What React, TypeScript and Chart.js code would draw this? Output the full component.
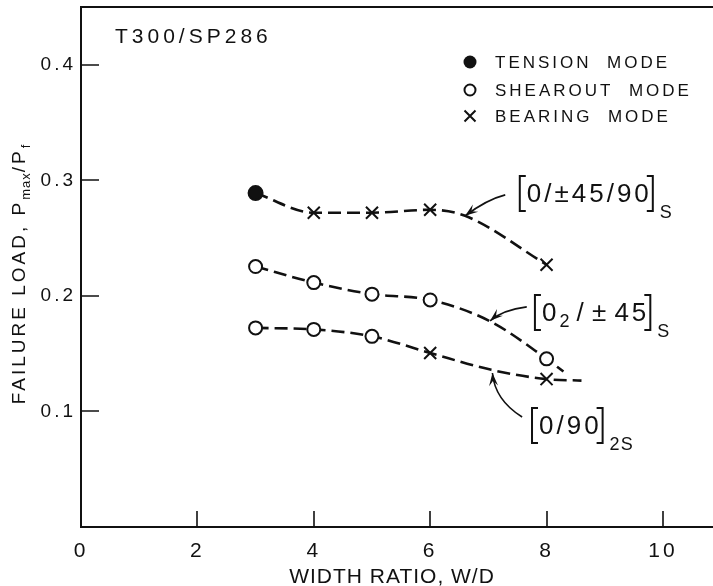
import React, { useEffect, useRef } from "react";
import { Chart, registerables } from "chart.js";

Chart.register(...registerables);

// ---- axes ----
const xTickValues = [0, 2, 4, 6, 8, 10];
const yTickValues = [0.1, 0.2, 0.3, 0.4];
const xMin = 0;
const xMax = 10.86;
const yMin = 0;
const yMax = 0.45;

// ---- [0/±45/90]s ----
const quasiX = [3, 4, 5, 6, 8];
const quasiY = [0.289, 0.272, 0.272, 0.2745, 0.227];
const quasiMode = ["T", "B", "B", "B", "B"];
const quasiCurveX = [3, 4, 5, 6, 6.6, 8];
const quasiCurveY = [0.289, 0.272, 0.272, 0.2745, 0.2693, 0.227];

// ---- [02/±45]s ----
const angleX = [3, 4, 5, 6, 8];
const angleY = [0.2254, 0.2115, 0.2015, 0.1965, 0.1455];
const angleMode = ["S", "S", "S", "S", "S"];
const angleCurveX = [3, 4, 5, 6, 7.03, 8, 8.29];
const angleCurveY = [0.2254, 0.2115, 0.2015, 0.1965, 0.178, 0.1455, 0.1345];

// ---- [0/90]2s ----
const crossX = [3, 4, 5, 6, 8];
const crossY = [0.1723, 0.171, 0.165, 0.1506, 0.128];
const crossMode = ["S", "S", "S", "B", "B"];
const crossCurveX = [3, 4, 5, 6, 7.05, 8, 8.6];
const crossCurveY = [0.1723, 0.171, 0.165, 0.1506, 0.136, 0.128, 0.1267];

// ---- texts ----
const titleText = "T300/SP286";
const legendItems = [
  { mode: "T", label: "TENSION  MODE" },
  { mode: "S", label: "SHEAROUT  MODE" },
  { mode: "B", label: "BEARING  MODE" },
];
const xTitle = "WIDTH RATIO, W/D";

// laminate labels: anchor (bracket left, centre) in data units, arrow tail/ctrl/tip in data units
const labelQuasi = { x: 7.54, y: 0.289, segs: [{ t: "0/±45/90" }], trail: "S" };
const labelAngle = { x: 7.8, y: 0.186, segs: [{ t: "0" }, { t: "2", sub: true }, { t: "\u200A/\u200A±\u200A45" }], trail: "S" };
const labelCross = { x: 7.75, y: 0.0883, segs: [{ t: "0/90" }], trail: "2S" };
const arrowQuasi = { tail: [7.29, 0.2874], ctrl: [6.98, 0.2835], tip: [6.6, 0.2693] };
const arrowAngle = { tail: [7.66, 0.1905], ctrl: [7.25, 0.188], tip: [7.03, 0.1784] };
const arrowCross = { tail: [7.58, 0.0952], ctrl: [7.11, 0.11], tip: [7.07, 0.1333] };

const FONT = "'Liberation Sans', Arial, sans-serif";
const INK = "#111";

function pts(xs: number[], ys: number[]) {
  return xs.map((x, i) => ({ x, y: ys[i] }));
}
function ptsMode(xs: number[], ys: number[], modes: string[], m: string) {
  return xs.map((x, i) => ({ x, y: ys[i], m: modes[i] })).filter((p) => p.m === m).map((p) => ({ x: p.x, y: p.y }));
}

function drawMarker(ctx: CanvasRenderingContext2D, mode: string, x: number, y: number) {
  ctx.save();
  ctx.strokeStyle = INK;
  ctx.fillStyle = INK;
  ctx.lineWidth = 2;
  if (mode === "T") {
    ctx.beginPath();
    ctx.arc(x, y, 6.5, 0, Math.PI * 2);
    ctx.fill();
  } else if (mode === "S") {
    ctx.beginPath();
    ctx.arc(x, y, 5.5, 0, Math.PI * 2);
    ctx.fillStyle = "#fff";
    ctx.fill();
    ctx.stroke();
  } else {
    const r = 5.5;
    ctx.beginPath();
    ctx.moveTo(x - r, y - r);
    ctx.lineTo(x + r, y + r);
    ctx.moveTo(x + r, y - r);
    ctx.lineTo(x - r, y + r);
    ctx.stroke();
  }
  ctx.restore();
}

function drawLaminate(ctx: CanvasRenderingContext2D, x: number, yc: number, segs: { t: string; sub?: boolean }[], trail: string) {
  ctx.save();
  ctx.strokeStyle = INK;
  ctx.fillStyle = INK;
  ctx.lineWidth = 2;
  const top = yc - 17;
  const bottom = yc + 18;
  ctx.beginPath();
  ctx.moveTo(x + 6, top);
  ctx.lineTo(x, top);
  ctx.lineTo(x, bottom);
  ctx.lineTo(x + 6, bottom);
  ctx.stroke();
  let cx = x + 7;
  ctx.textAlign = "left";
  ctx.textBaseline = "alphabetic";
  for (const s of segs) {
    if (s.sub) {
      ctx.font = `18px ${FONT}`;
      ctx.letterSpacing = "2px";
      ctx.fillText(s.t, cx, yc + 15);
    } else {
      ctx.font = `26px ${FONT}`;
      ctx.letterSpacing = "3px";
      ctx.fillText(s.t, cx, yc + 9);
    }
    cx += ctx.measureText(s.t).width;
  }
  const rx = cx + 1;
  ctx.beginPath();
  ctx.moveTo(rx - 6, top);
  ctx.lineTo(rx, top);
  ctx.lineTo(rx, bottom);
  ctx.lineTo(rx - 6, bottom);
  ctx.stroke();
  ctx.font = `18px ${FONT}`;
  ctx.letterSpacing = "1px";
  ctx.fillText(trail, rx + 7, bottom + 7);
  ctx.restore();
}

function drawArrow(chart: any, a: { tail: number[]; ctrl: number[]; tip: number[] }) {
  const ctx: CanvasRenderingContext2D = chart.ctx;
  const xs = chart.scales.x;
  const ys = chart.scales.y;
  const t = [xs.getPixelForValue(a.tail[0]), ys.getPixelForValue(a.tail[1])];
  const c = [xs.getPixelForValue(a.ctrl[0]), ys.getPixelForValue(a.ctrl[1])];
  const p = [xs.getPixelForValue(a.tip[0]), ys.getPixelForValue(a.tip[1])];
  ctx.save();
  ctx.strokeStyle = INK;
  ctx.fillStyle = INK;
  ctx.lineWidth = 1.6;
  ctx.beginPath();
  ctx.moveTo(t[0], t[1]);
  ctx.quadraticCurveTo(c[0], c[1], p[0], p[1]);
  ctx.stroke();
  const ang = Math.atan2(p[1] - c[1], p[0] - c[0]);
  const L = 13;
  const W = 4.5;
  const bx = p[0] - L * Math.cos(ang);
  const by = p[1] - L * Math.sin(ang);
  ctx.beginPath();
  ctx.moveTo(p[0], p[1]);
  ctx.lineTo(bx + W * Math.sin(ang), by - W * Math.cos(ang));
  ctx.lineTo(p[0] - 0.6 * L * Math.cos(ang), p[1] - 0.6 * L * Math.sin(ang));
  ctx.lineTo(bx - W * Math.sin(ang), by + W * Math.cos(ang));
  ctx.closePath();
  ctx.fill();
  ctx.restore();
}

const decorPlugin = {
  id: "decor",
  beforeDraw(chart: any) {
    chart.ctx.letterSpacing = "3px";
  },
  beforeDatasetsDraw(chart: any) {
    const ctx: CanvasRenderingContext2D = chart.ctx;
    ctx.letterSpacing = "0px";
    const { left, right, top, bottom } = chart.chartArea;
    const xs = chart.scales.x;
    const ys = chart.scales.y;
    ctx.save();
    ctx.strokeStyle = INK;
    ctx.lineWidth = 2;
    ctx.beginPath();
    ctx.moveTo(right, top);
    ctx.lineTo(left, top);
    ctx.lineTo(left, bottom);
    ctx.lineTo(right, bottom);
    ctx.stroke();
    ctx.lineWidth = 1.6;
    ctx.beginPath();
    for (const v of yTickValues) {
      const y = Math.round(ys.getPixelForValue(v));
      ctx.moveTo(left, y);
      ctx.lineTo(left + 18, y);
    }
    for (const v of xTickValues) {
      if (v === 0) continue;
      const x = Math.round(xs.getPixelForValue(v));
      ctx.moveTo(x, bottom);
      ctx.lineTo(x, bottom - 16);
    }
    ctx.stroke();
    ctx.restore();
  },
  afterDatasetsDraw(chart: any) {
    const ctx: CanvasRenderingContext2D = chart.ctx;
    const xs = chart.scales.x;
    const ys = chart.scales.y;
    ctx.save();
    ctx.fillStyle = INK;
    ctx.textBaseline = "alphabetic";
    ctx.textAlign = "left";

    // title
    ctx.font = `21px ${FONT}`;
    ctx.letterSpacing = "4px";
    ctx.fillText(titleText, 115, 43);

    // legend
    const rows = [62, 90, 116];
    legendItems.forEach((it, i) => {
      drawMarker(ctx, it.mode, 470, rows[i]);
      ctx.fillStyle = INK;
      ctx.font = `17px ${FONT}`;
      ctx.letterSpacing = "3px";
      ctx.fillText(it.label, 495, rows[i] + 6);
    });

    // x title
    ctx.font = `21px ${FONT}`;
    ctx.letterSpacing = "1px";
    ctx.textAlign = "center";
    ctx.fillText(xTitle, 392, 583);

    // y title with subscripts
    ctx.textAlign = "left";
    ctx.save();
    ctx.translate(25, 274);
    ctx.rotate(-Math.PI / 2);
    const parts = [
      { t: "FAILURE LOAD, P", sub: false },
      { t: "max", sub: true },
      { t: "/P", sub: false },
      { t: "f", sub: true },
    ];
    let total = 0;
    for (const p of parts) {
      ctx.font = p.sub ? `13px ${FONT}` : `19px ${FONT}`;
      ctx.letterSpacing = p.sub ? "1px" : "3px";
      total += ctx.measureText(p.t).width;
    }
    let cx = -total / 2;
    for (const p of parts) {
      ctx.font = p.sub ? `13px ${FONT}` : `19px ${FONT}`;
      ctx.letterSpacing = p.sub ? "1px" : "3px";
      ctx.fillText(p.t, cx, p.sub ? 5 : 0);
      cx += ctx.measureText(p.t).width;
    }
    ctx.restore();

    // laminate labels + arrows
    for (const lab of [labelQuasi, labelAngle, labelCross]) {
      drawLaminate(ctx, xs.getPixelForValue(lab.x), ys.getPixelForValue(lab.y), lab.segs, lab.trail);
    }
    for (const a of [arrowQuasi, arrowAngle, arrowCross]) drawArrow(chart, a);
    ctx.restore();
  },
};

const curveStyle = {
  showLine: true,
  pointRadius: 0,
  borderColor: INK,
  borderWidth: 2.6,
  borderDash: [13, 6],
  cubicInterpolationMode: "monotone" as const,
  fill: false,
  order: 2,
};

function markerSet(data: { x: number; y: number }[], mode: string) {
  const base: any = {
    data,
    showLine: false,
    borderColor: INK,
    pointBorderColor: INK,
    borderWidth: 2,
    pointBorderWidth: 2,
    order: 0,
  };
  if (mode === "T") return { ...base, pointStyle: "circle", pointRadius: 7, pointBackgroundColor: INK };
  if (mode === "S") return { ...base, pointStyle: "circle", pointRadius: 6.5, pointBackgroundColor: "#fff" };
  return { ...base, pointStyle: "crossRot", pointRadius: 8.5, pointBackgroundColor: INK };
}

function zeroPad(s: any) {
  s.paddingTop = 0;
  s.paddingBottom = 0;
  s.paddingLeft = 0;
  s.paddingRight = 0;
}

export default function App() {
  const ref = useRef<HTMLCanvasElement | null>(null);
  useEffect(() => {
    document.body.style.margin = "0";
    const canvas = ref.current!;
    const datasets: any[] = [];
    const series = [
      { x: quasiX, y: quasiY, m: quasiMode, cx: quasiCurveX, cy: quasiCurveY },
      { x: angleX, y: angleY, m: angleMode, cx: angleCurveX, cy: angleCurveY },
      { x: crossX, y: crossY, m: crossMode, cx: crossCurveX, cy: crossCurveY },
    ];
    for (const s of series) {
      for (const mode of ["T", "S", "B"]) {
        const d = ptsMode(s.x, s.y, s.m, mode);
        if (d.length) datasets.push(markerSet(d, mode));
      }
      datasets.push({ ...curveStyle, data: pts(s.cx, s.cy) });
    }
    const chart = new Chart(canvas, {
      type: "scatter",
      data: { datasets },
      options: {
        animation: false,
        responsive: false,
        devicePixelRatio: 1,
        layout: { autoPadding: false, padding: { top: 7, left: 0, right: 0, bottom: 0 } },
        plugins: { legend: { display: false }, tooltip: { enabled: false } },
        events: [],
        scales: {
          x: {
            type: "linear",
            min: xMin,
            max: xMax,
            grid: { display: false, drawTicks: false },
            border: { display: false },
            afterFit: (s: any) => {
              s.height = 59;
              zeroPad(s);
            },
            afterBuildTicks: (s: any) => {
              s.ticks = xTickValues.map((v) => ({ value: v }));
            },
            ticks: {
              autoSkip: false,
              maxRotation: 0,
              padding: 12,
              color: INK,
              font: { family: FONT, size: 21 },
              callback: (v: any) => String(v),
            },
          },
          y: {
            type: "linear",
            min: yMin,
            max: yMax,
            grid: { display: false, drawTicks: false },
            border: { display: false },
            afterFit: (s: any) => {
              s.width = 81;
              zeroPad(s);
            },
            afterBuildTicks: (s: any) => {
              s.ticks = yTickValues.map((v) => ({ value: v }));
            },
            ticks: {
              autoSkip: false,
              padding: 5,
              color: INK,
              font: { family: FONT, size: 19 },
              callback: (v: any) => Number(v).toFixed(1),
            },
          },
        },
      },
      plugins: [decorPlugin],
    } as any);
    return () => chart.destroy();
  }, []);
  return (
    <div style={{ position: "absolute", left: 0, top: 0, width: 713, height: 586, background: "#fff" }}>
      <canvas ref={ref} width={713} height={586} style={{ display: "block" }} />
    </div>
  );
}
